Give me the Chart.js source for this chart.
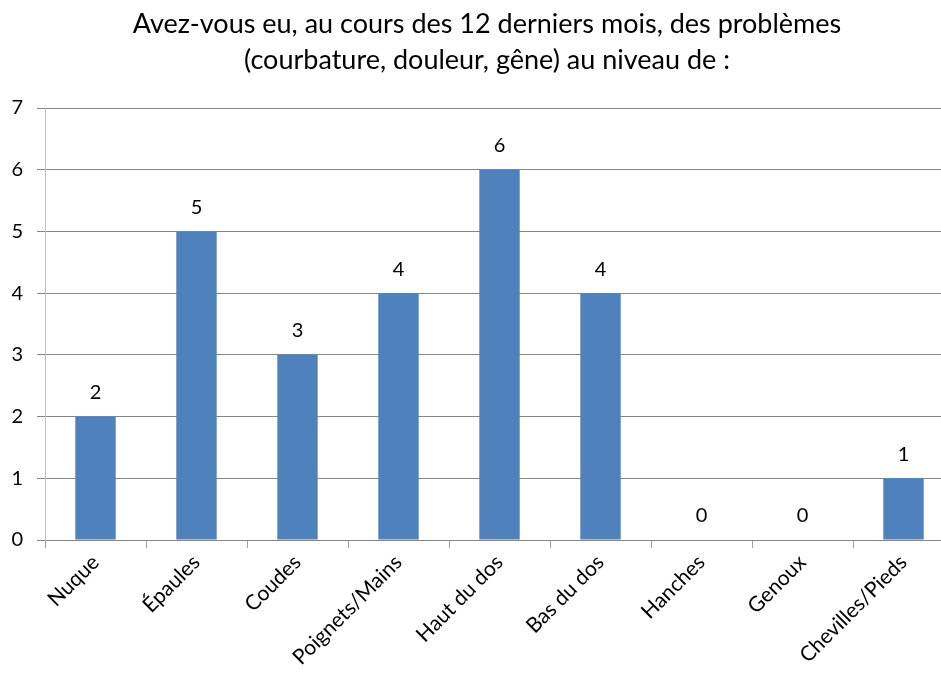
<!DOCTYPE html>
<html>
<head>
<meta charset="utf-8">
<script src="https://cdn.jsdelivr.net/npm/chart.js@4/dist/chart.umd.min.js"></script>
<style>
  html, body { margin: 0; padding: 0; background: #fff; overflow: hidden; }
  #wrap { width: 975px; height: 676px; }
</style>
</head>
<body>
<div id="wrap"><canvas id="c"></canvas></div>
<script>
const titleLines = ['Avez-vous eu, au cours des 12 derniers mois, des problèmes',
                    '(courbature, douleur, gêne) au niveau de :'];
const categories = ['Nuque', 'Épaules', 'Coudes', 'Poignets/Mains', 'Haut du dos',
                    'Bas du dos', 'Hanches', 'Genoux', 'Chevilles/Pieds'];
const counts = [2, 5, 3, 4, 6, 4, 0, 0, 1];

const FONT = 'Lato, "Open Sans", sans-serif';

// titre sur deux lignes, centré comme dans l'original
const titleText = {
  id: 'titleText',
  afterDraw(chart) {
    const ctx = chart.ctx;
    ctx.save();
    ctx.font = '27px ' + FONT;
    ctx.fillStyle = '#000';
    ctx.textAlign = 'center';
    ctx.textBaseline = 'middle';
    titleLines.forEach((line, i) => ctx.fillText(line, 487, 24 + i * 36));
    ctx.restore();
  }
};

// étiquettes de valeur au-dessus des barres
const valueLabels = {
  id: 'valueLabels',
  afterDatasetsDraw(chart) {
    const ctx = chart.ctx;
    const meta = chart.getDatasetMeta(0);
    ctx.save();
    ctx.font = '20px ' + FONT;
    ctx.fillStyle = '#000';
    ctx.textAlign = 'center';
    ctx.textBaseline = 'middle';
    meta.data.forEach((bar, i) => {
      ctx.fillText(String(counts[i]), bar.x, bar.y - 24);
    });
    ctx.restore();
  }
};

new Chart(document.getElementById('c'), {
  type: 'bar',
  data: {
    labels: categories,
    datasets: [{
      data: counts,
      backgroundColor: '#4F81BD',
      borderWidth: 0,
      barPercentage: 0.8,
      categoryPercentage: 0.5
    }]
  },
  options: {
    responsive: true,
    maintainAspectRatio: false,
    animation: false,
    layout: { padding: { left: 0, right: 21, top: 108, bottom: 0 } },
    plugins: {
      legend: { display: false },
      tooltip: { enabled: false },
      title: { display: false }
    },
    scales: {
      x: {
        grid: { display: true, drawOnChartArea: false, drawTicks: true, tickLength: 8,
                color: '#A0A0A0', offset: true },
        border: { color: '#868686', width: 1 },
        ticks: {
          color: '#000',
          font: { family: FONT, size: 21 },
          maxRotation: 45, minRotation: 45,
          padding: 2
        },
        afterFit(s) { s.height = 136; }
      },
      y: {
        min: 0, max: 7,
        ticks: { stepSize: 1, color: '#000', font: { family: FONT, size: 20 }, padding: 14 },
        grid: { color: '#868686', tickLength: 8, drawTicks: true },
        border: { color: '#BFBFBF', width: 1 },
        afterFit(s) { s.width = 45; }
      }
    }
  },
  plugins: [valueLabels, titleText]
});
</script>
</body>
</html>
